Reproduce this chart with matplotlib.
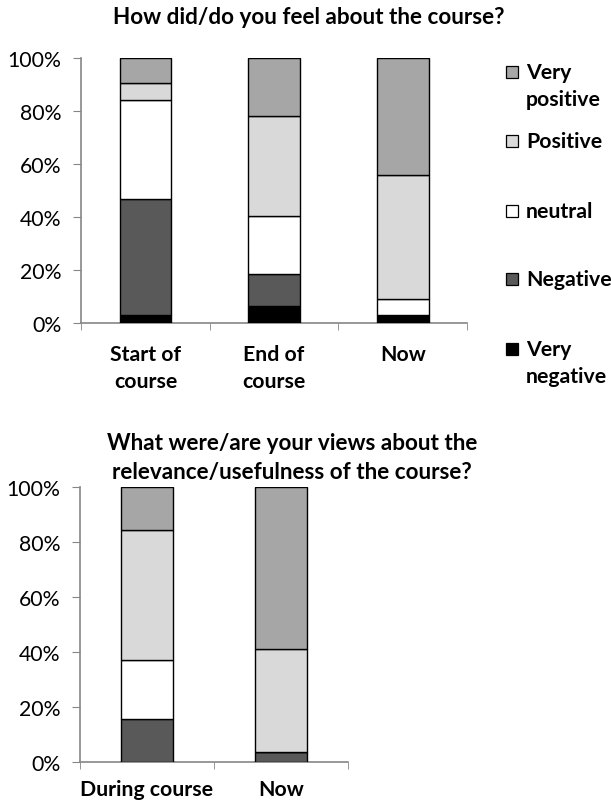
import matplotlib
matplotlib.use("Agg")
from matplotlib import pyplot as plt
from matplotlib.patches import Rectangle
from matplotlib.ticker import PercentFormatter, FixedLocator

plt.rcParams['font.family'] = ['Lato', 'DejaVu Sans']

# categories / levels
levels = ["Very negative", "Negative", "neutral", "Positive", "Very positive"]
legend_labels = ["Very\nnegative", "Negative", "neutral", "Positive", "Very\npositive"]
colours = ["#000000", "#595959", "#ffffff", "#d9d9d9", "#a6a6a6"]

# chart 1: how did/do you feel about the course (percent)
feel_cats = ["Start of\ncourse", "End of\ncourse", "Now"]
feel_very_neg = [3.2, 6.4, 3.1]
feel_neg = [43.6, 12.2, 0.0]
feel_neutral = [37.6, 21.9, 6.2]
feel_pos = [6.4, 37.7, 46.8]
feel_very_pos = [9.2, 21.8, 43.9]

# chart 2: relevance / usefulness (percent)
use_cats = ["During course", "Now"]
use_very_neg = [0.0, 0.0]
use_neg = [15.6, 3.4]
use_neutral = [21.6, 0.0]
use_pos = [47.3, 37.6]
use_very_pos = [15.5, 59.0]

FS = 15.3


def stacked(ax, cats, series, width, xpad):
    x = range(len(cats))
    bottom = [0.0] * len(cats)
    for vals, col in zip(series, colours):
        ax.bar(x, vals, width, bottom=bottom, color=col,
               edgecolor="black", linewidth=1.0, zorder=3)
        bottom = [b + v for b, v in zip(bottom, vals)]
    ax.set_xlim(-0.5, len(cats) - 0.5)
    ax.set_ylim(0, 100)
    ax.set_xticks(list(x))
    ax.set_xticklabels(cats, fontsize=FS, fontweight="bold",
                       linespacing=1.42)
    ax.tick_params(axis="x", which="major", length=0, pad=xpad)
    ax.xaxis.set_minor_locator(FixedLocator([i - 0.5 for i in range(len(cats) + 1)]))
    ax.tick_params(axis="x", which="minor", length=5, color="#868686",
                   direction="out")
    ax.set_yticks(range(0, 101, 20))
    ax.yaxis.set_major_formatter(PercentFormatter(decimals=0))
    ax.tick_params(axis="y", length=6, color="#868686", labelsize=FS,
                   pad=8)
    for s in ("top", "right"):
        ax.spines[s].set_visible(False)
    for s in ("left", "bottom"):
        ax.spines[s].set_color("#868686")
        ax.spines[s].set_linewidth(1.2)


fig = plt.figure(figsize=(6.11, 8.03), dpi=100)

ax1 = fig.add_axes([0.1326, 0.5961, 0.632, 0.330])
stacked(ax1, feel_cats,
        [feel_very_neg, feel_neg, feel_neutral, feel_pos, feel_very_pos],
        0.4, 15)

ax2 = fig.add_axes([0.131, 0.0502, 0.438, 0.3417])
stacked(ax2, use_cats,
        [use_very_neg, use_neg, use_neutral, use_pos, use_very_pos],
        0.39, 12.5)

W, H = 611, 803
fig.text(309 / W, 1 - 18 / H, "How did/do you feel about the course?",
         ha="center", va="center", fontsize=16.2, fontweight="bold")
fig.text(292 / W, 1 - 458 / H,
         "What were/are your views about the\nrelevance/usefulness of the course?",
         ha="center", va="center", fontsize=16.2, fontweight="bold",
         linespacing=1.5)

# legend, top entry = Very positive
leg_y = [350, 280, 212, 142, 73]
for lab, col, y in zip(legend_labels, colours, leg_y):
    fig.patches.append(Rectangle((506 / W, 1 - (y + 6) / H), 12 / W, 12 / H,
                                 transform=fig.transFigure, facecolor=col,
                                 edgecolor="black", linewidth=0.9))
    fig.text(526 / W, 1 - (y - 10) / H, lab, ha="left", va="top",
             fontsize=FS, fontweight="bold", linespacing=1.45)

fig.savefig("out.png", dpi=100)
